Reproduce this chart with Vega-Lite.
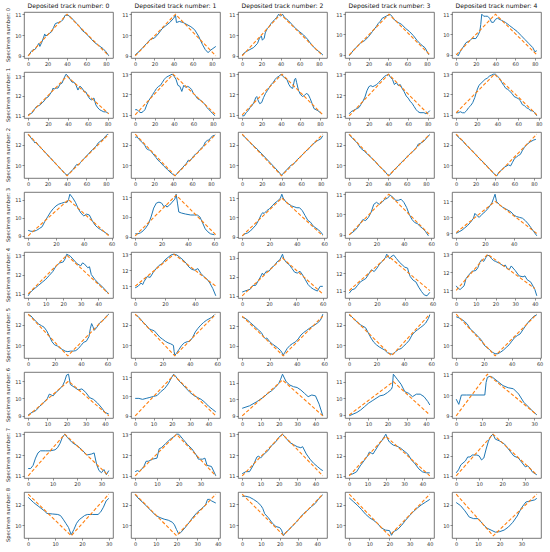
{
"$schema":"https://vega.github.io/schema/vega-lite/v6.json",
"padding":{"left":5,"top":2,"right":0,"bottom":0},
"datasets":{"d":[
{"r":0,"c":0,"k":"m","x":0,"y":9.0},{"r":0,"c":0,"k":"m","x":3,"y":9.2},{"r":0,"c":0,"k":"m","x":5,"y":9.3},{"r":0,"c":0,"k":"m","x":7,"y":9.3},{"r":0,"c":0,"k":"m","x":9,"y":9.45},{"r":0,"c":0,"k":"m","x":11,"y":9.6},{"r":0,"c":0,"k":"m","x":12,"y":9.45},{"r":0,"c":0,"k":"m","x":14,"y":9.65},{"r":0,"c":0,"k":"m","x":16,"y":9.9},{"r":0,"c":0,"k":"m","x":17,"y":10.05},{"r":0,"c":0,"k":"m","x":18,"y":9.95},{"r":0,"c":0,"k":"m","x":21,"y":10.05},{"r":0,"c":0,"k":"m","x":24,"y":10.15},{"r":0,"c":0,"k":"m","x":26,"y":10.35},{"r":0,"c":0,"k":"m","x":28,"y":10.55},{"r":0,"c":0,"k":"m","x":31,"y":10.6},{"r":0,"c":0,"k":"m","x":34,"y":10.65},{"r":0,"c":0,"k":"m","x":36,"y":10.75},{"r":0,"c":0,"k":"m","x":38,"y":10.95},{"r":0,"c":0,"k":"m","x":41,"y":10.95},{"r":0,"c":0,"k":"m","x":44,"y":10.85},{"r":0,"c":0,"k":"m","x":47,"y":10.7},{"r":0,"c":0,"k":"m","x":50,"y":10.55},{"r":0,"c":0,"k":"m","x":53,"y":10.4},{"r":0,"c":0,"k":"m","x":56,"y":10.2},{"r":0,"c":0,"k":"m","x":59,"y":10.1},{"r":0,"c":0,"k":"m","x":62,"y":9.95},{"r":0,"c":0,"k":"m","x":65,"y":9.8},{"r":0,"c":0,"k":"m","x":68,"y":9.65},{"r":0,"c":0,"k":"m","x":71,"y":9.55},{"r":0,"c":0,"k":"m","x":74,"y":9.45},{"r":0,"c":0,"k":"m","x":77,"y":9.35},{"r":0,"c":0,"k":"m","x":80,"y":9.2},{"r":0,"c":0,"k":"m","x":83,"y":9.0},
{"r":0,"c":0,"k":"f","x":0,"y":9},{"r":0,"c":0,"k":"f","x":40,"y":11},{"r":0,"c":0,"k":"f","x":83,"y":9},
{"r":0,"c":1,"k":"m","x":0,"y":9.05},{"r":0,"c":1,"k":"m","x":4,"y":9.2},{"r":0,"c":1,"k":"m","x":8,"y":9.4},{"r":0,"c":1,"k":"m","x":12,"y":9.6},{"r":0,"c":1,"k":"m","x":16,"y":9.8},{"r":0,"c":1,"k":"m","x":20,"y":9.85},{"r":0,"c":1,"k":"m","x":24,"y":10.05},{"r":0,"c":1,"k":"m","x":28,"y":10.3},{"r":0,"c":1,"k":"m","x":32,"y":10.45},{"r":0,"c":1,"k":"m","x":36,"y":10.6},{"r":0,"c":1,"k":"m","x":40,"y":10.8},{"r":0,"c":1,"k":"m","x":42,"y":10.95},{"r":0,"c":1,"k":"m","x":43,"y":10.6},{"r":0,"c":1,"k":"m","x":46,"y":10.65},{"r":0,"c":1,"k":"m","x":50,"y":10.6},{"r":0,"c":1,"k":"m","x":54,"y":10.5},{"r":0,"c":1,"k":"m","x":58,"y":10.4},{"r":0,"c":1,"k":"m","x":62,"y":10.25},{"r":0,"c":1,"k":"m","x":66,"y":9.95},{"r":0,"c":1,"k":"m","x":70,"y":9.55},{"r":0,"c":1,"k":"m","x":73,"y":9.3},{"r":0,"c":1,"k":"m","x":76,"y":9.15},{"r":0,"c":1,"k":"m","x":78,"y":9.25},{"r":0,"c":1,"k":"m","x":81,"y":9.35},{"r":0,"c":1,"k":"m","x":84,"y":9.45},
{"r":0,"c":1,"k":"f","x":0,"y":9},{"r":0,"c":1,"k":"f","x":42,"y":11},{"r":0,"c":1,"k":"f","x":84,"y":9},
{"r":0,"c":2,"k":"m","x":0,"y":9.05},{"r":0,"c":2,"k":"m","x":4,"y":9.2},{"r":0,"c":2,"k":"m","x":8,"y":9.3},{"r":0,"c":2,"k":"m","x":12,"y":9.4},{"r":0,"c":2,"k":"m","x":16,"y":9.6},{"r":0,"c":2,"k":"m","x":18,"y":9.85},{"r":0,"c":2,"k":"m","x":20,"y":9.95},{"r":0,"c":2,"k":"m","x":21,"y":9.75},{"r":0,"c":2,"k":"m","x":23,"y":9.85},{"r":0,"c":2,"k":"m","x":24,"y":10.1},{"r":0,"c":2,"k":"m","x":26,"y":10.3},{"r":0,"c":2,"k":"m","x":28,"y":10.4},{"r":0,"c":2,"k":"m","x":30,"y":10.55},{"r":0,"c":2,"k":"m","x":32,"y":10.65},{"r":0,"c":2,"k":"m","x":34,"y":10.75},{"r":0,"c":2,"k":"m","x":36,"y":10.85},{"r":0,"c":2,"k":"m","x":38,"y":11.0},{"r":0,"c":2,"k":"m","x":40,"y":10.9},{"r":0,"c":2,"k":"m","x":42,"y":11.0},{"r":0,"c":2,"k":"m","x":44,"y":10.85},{"r":0,"c":2,"k":"m","x":48,"y":10.7},{"r":0,"c":2,"k":"m","x":52,"y":10.5},{"r":0,"c":2,"k":"m","x":56,"y":10.3},{"r":0,"c":2,"k":"m","x":60,"y":10.15},{"r":0,"c":2,"k":"m","x":64,"y":10.0},{"r":0,"c":2,"k":"m","x":68,"y":9.8},{"r":0,"c":2,"k":"m","x":72,"y":9.55},{"r":0,"c":2,"k":"m","x":76,"y":9.35},{"r":0,"c":2,"k":"m","x":80,"y":9.2},{"r":0,"c":2,"k":"m","x":84,"y":9.05},
{"r":0,"c":2,"k":"f","x":0,"y":9},{"r":0,"c":2,"k":"f","x":40,"y":11},{"r":0,"c":2,"k":"f","x":84,"y":9},
{"r":0,"c":3,"k":"m","x":0,"y":8.95},{"r":0,"c":3,"k":"m","x":4,"y":9.2},{"r":0,"c":3,"k":"m","x":8,"y":9.4},{"r":0,"c":3,"k":"m","x":12,"y":9.6},{"r":0,"c":3,"k":"m","x":16,"y":9.7},{"r":0,"c":3,"k":"m","x":20,"y":9.9},{"r":0,"c":3,"k":"m","x":24,"y":10.15},{"r":0,"c":3,"k":"m","x":28,"y":10.4},{"r":0,"c":3,"k":"m","x":30,"y":10.55},{"r":0,"c":3,"k":"m","x":32,"y":10.65},{"r":0,"c":3,"k":"m","x":34,"y":10.8},{"r":0,"c":3,"k":"m","x":36,"y":10.85},{"r":0,"c":3,"k":"m","x":38,"y":10.9},{"r":0,"c":3,"k":"m","x":40,"y":10.95},{"r":0,"c":3,"k":"m","x":42,"y":11.0},{"r":0,"c":3,"k":"m","x":44,"y":10.9},{"r":0,"c":3,"k":"m","x":46,"y":10.75},{"r":0,"c":3,"k":"m","x":50,"y":10.6},{"r":0,"c":3,"k":"m","x":54,"y":10.5},{"r":0,"c":3,"k":"m","x":58,"y":10.3},{"r":0,"c":3,"k":"m","x":62,"y":10.15},{"r":0,"c":3,"k":"m","x":66,"y":9.95},{"r":0,"c":3,"k":"m","x":70,"y":9.7},{"r":0,"c":3,"k":"m","x":74,"y":9.5},{"r":0,"c":3,"k":"m","x":78,"y":9.35},{"r":0,"c":3,"k":"m","x":82,"y":9.0},
{"r":0,"c":3,"k":"f","x":0,"y":9},{"r":0,"c":3,"k":"f","x":41,"y":11},{"r":0,"c":3,"k":"f","x":83,"y":9},
{"r":0,"c":4,"k":"m","x":0,"y":9.05},{"r":0,"c":4,"k":"m","x":2,"y":8.95},{"r":0,"c":4,"k":"m","x":4,"y":9.15},{"r":0,"c":4,"k":"m","x":6,"y":9.3},{"r":0,"c":4,"k":"m","x":8,"y":9.45},{"r":0,"c":4,"k":"m","x":10,"y":9.6},{"r":0,"c":4,"k":"m","x":12,"y":9.65},{"r":0,"c":4,"k":"m","x":14,"y":9.7},{"r":0,"c":4,"k":"m","x":16,"y":9.8},{"r":0,"c":4,"k":"m","x":20,"y":9.8},{"r":0,"c":4,"k":"m","x":22,"y":9.95},{"r":0,"c":4,"k":"m","x":24,"y":10.15},{"r":0,"c":4,"k":"m","x":25,"y":10.5},{"r":0,"c":4,"k":"m","x":26,"y":11.0},{"r":0,"c":4,"k":"m","x":28,"y":10.9},{"r":0,"c":4,"k":"m","x":30,"y":10.9},{"r":0,"c":4,"k":"m","x":32,"y":10.9},{"r":0,"c":4,"k":"m","x":34,"y":10.8},{"r":0,"c":4,"k":"m","x":36,"y":10.6},{"r":0,"c":4,"k":"m","x":38,"y":10.6},{"r":0,"c":4,"k":"m","x":40,"y":10.75},{"r":0,"c":4,"k":"m","x":42,"y":10.8},{"r":0,"c":4,"k":"m","x":46,"y":10.7},{"r":0,"c":4,"k":"m","x":50,"y":10.6},{"r":0,"c":4,"k":"m","x":54,"y":10.45},{"r":0,"c":4,"k":"m","x":58,"y":10.3},{"r":0,"c":4,"k":"m","x":62,"y":10.15},{"r":0,"c":4,"k":"m","x":66,"y":9.95},{"r":0,"c":4,"k":"m","x":70,"y":9.75},{"r":0,"c":4,"k":"m","x":74,"y":9.55},{"r":0,"c":4,"k":"m","x":78,"y":9.35},{"r":0,"c":4,"k":"m","x":80,"y":9.15},{"r":0,"c":4,"k":"m","x":82,"y":9.2},
{"r":0,"c":4,"k":"f","x":0,"y":9},{"r":0,"c":4,"k":"f","x":40,"y":11},{"r":0,"c":4,"k":"f","x":82,"y":9},
{"r":1,"c":0,"k":"m","x":0,"y":11.05},{"r":1,"c":0,"k":"m","x":2,"y":11.1},{"r":1,"c":0,"k":"m","x":4,"y":11.15},{"r":1,"c":0,"k":"m","x":6,"y":11.3},{"r":1,"c":0,"k":"m","x":8,"y":11.45},{"r":1,"c":0,"k":"m","x":10,"y":11.5},{"r":1,"c":0,"k":"m","x":12,"y":11.55},{"r":1,"c":0,"k":"m","x":14,"y":11.65},{"r":1,"c":0,"k":"m","x":16,"y":11.75},{"r":1,"c":0,"k":"m","x":18,"y":11.9},{"r":1,"c":0,"k":"m","x":20,"y":11.95},{"r":1,"c":0,"k":"m","x":22,"y":12.1},{"r":1,"c":0,"k":"m","x":24,"y":12.25},{"r":1,"c":0,"k":"m","x":25,"y":12.4},{"r":1,"c":0,"k":"m","x":26,"y":12.35},{"r":1,"c":0,"k":"m","x":28,"y":12.4},{"r":1,"c":0,"k":"m","x":30,"y":12.4},{"r":1,"c":0,"k":"m","x":32,"y":12.6},{"r":1,"c":0,"k":"m","x":34,"y":12.65},{"r":1,"c":0,"k":"m","x":36,"y":12.9},{"r":1,"c":0,"k":"m","x":38,"y":13.1},{"r":1,"c":0,"k":"m","x":40,"y":13.0},{"r":1,"c":0,"k":"m","x":42,"y":12.85},{"r":1,"c":0,"k":"m","x":44,"y":12.7},{"r":1,"c":0,"k":"m","x":46,"y":12.7},{"r":1,"c":0,"k":"m","x":48,"y":12.55},{"r":1,"c":0,"k":"m","x":50,"y":12.3},{"r":1,"c":0,"k":"m","x":52,"y":12.5},{"r":1,"c":0,"k":"m","x":54,"y":12.4},{"r":1,"c":0,"k":"m","x":56,"y":12.25},{"r":1,"c":0,"k":"m","x":58,"y":12.2},{"r":1,"c":0,"k":"m","x":60,"y":12.0},{"r":1,"c":0,"k":"m","x":62,"y":11.85},{"r":1,"c":0,"k":"m","x":64,"y":11.8},{"r":1,"c":0,"k":"m","x":66,"y":11.9},{"r":1,"c":0,"k":"m","x":68,"y":11.55},{"r":1,"c":0,"k":"m","x":70,"y":11.4},{"r":1,"c":0,"k":"m","x":72,"y":11.3},{"r":1,"c":0,"k":"m","x":74,"y":11.25},{"r":1,"c":0,"k":"m","x":76,"y":11.2},{"r":1,"c":0,"k":"m","x":78,"y":11.2},{"r":1,"c":0,"k":"m","x":80,"y":11.15},
{"r":1,"c":0,"k":"f","x":0,"y":11},{"r":1,"c":0,"k":"f","x":39,"y":13},{"r":1,"c":0,"k":"f","x":81,"y":11.1},
{"r":1,"c":1,"k":"m","x":0,"y":11.25},{"r":1,"c":1,"k":"m","x":2,"y":11.25},{"r":1,"c":1,"k":"m","x":4,"y":11.15},{"r":1,"c":1,"k":"m","x":6,"y":11.1},{"r":1,"c":1,"k":"m","x":8,"y":11.15},{"r":1,"c":1,"k":"m","x":10,"y":11.25},{"r":1,"c":1,"k":"m","x":12,"y":11.5},{"r":1,"c":1,"k":"m","x":14,"y":11.7},{"r":1,"c":1,"k":"m","x":16,"y":11.85},{"r":1,"c":1,"k":"m","x":18,"y":12.0},{"r":1,"c":1,"k":"m","x":20,"y":12.15},{"r":1,"c":1,"k":"m","x":22,"y":12.3},{"r":1,"c":1,"k":"m","x":24,"y":12.4},{"r":1,"c":1,"k":"m","x":26,"y":12.45},{"r":1,"c":1,"k":"m","x":28,"y":12.6},{"r":1,"c":1,"k":"m","x":30,"y":12.75},{"r":1,"c":1,"k":"m","x":32,"y":12.85},{"r":1,"c":1,"k":"m","x":34,"y":12.9},{"r":1,"c":1,"k":"m","x":36,"y":12.95},{"r":1,"c":1,"k":"m","x":38,"y":13.0},{"r":1,"c":1,"k":"m","x":40,"y":12.9},{"r":1,"c":1,"k":"m","x":42,"y":12.75},{"r":1,"c":1,"k":"m","x":44,"y":12.45},{"r":1,"c":1,"k":"m","x":46,"y":12.4},{"r":1,"c":1,"k":"m","x":48,"y":12.15},{"r":1,"c":1,"k":"m","x":50,"y":12.45},{"r":1,"c":1,"k":"m","x":52,"y":12.35},{"r":1,"c":1,"k":"m","x":54,"y":12.4},{"r":1,"c":1,"k":"m","x":56,"y":12.35},{"r":1,"c":1,"k":"m","x":58,"y":12.25},{"r":1,"c":1,"k":"m","x":60,"y":12.05},{"r":1,"c":1,"k":"m","x":62,"y":11.95},{"r":1,"c":1,"k":"m","x":64,"y":11.8},{"r":1,"c":1,"k":"m","x":66,"y":11.75},{"r":1,"c":1,"k":"m","x":68,"y":11.7},{"r":1,"c":1,"k":"m","x":70,"y":11.6},{"r":1,"c":1,"k":"m","x":72,"y":11.5},{"r":1,"c":1,"k":"m","x":74,"y":11.35},{"r":1,"c":1,"k":"m","x":76,"y":11.25},{"r":1,"c":1,"k":"m","x":78,"y":11.15},{"r":1,"c":1,"k":"m","x":80,"y":11.05},{"r":1,"c":1,"k":"m","x":82,"y":10.95},
{"r":1,"c":1,"k":"f","x":0,"y":11},{"r":1,"c":1,"k":"f","x":39,"y":13},{"r":1,"c":1,"k":"f","x":83,"y":11},
{"r":1,"c":2,"k":"m","x":0,"y":10.95},{"r":1,"c":2,"k":"m","x":2,"y":10.95},{"r":1,"c":2,"k":"m","x":4,"y":11.1},{"r":1,"c":2,"k":"m","x":6,"y":11.2},{"r":1,"c":2,"k":"m","x":8,"y":11.35},{"r":1,"c":2,"k":"m","x":10,"y":11.45},{"r":1,"c":2,"k":"m","x":12,"y":11.6},{"r":1,"c":2,"k":"m","x":14,"y":11.85},{"r":1,"c":2,"k":"m","x":15,"y":11.9},{"r":1,"c":2,"k":"m","x":16,"y":11.75},{"r":1,"c":2,"k":"m","x":18,"y":11.55},{"r":1,"c":2,"k":"m","x":20,"y":11.6},{"r":1,"c":2,"k":"m","x":22,"y":11.85},{"r":1,"c":2,"k":"m","x":24,"y":12.05},{"r":1,"c":2,"k":"m","x":26,"y":12.2},{"r":1,"c":2,"k":"m","x":28,"y":12.35},{"r":1,"c":2,"k":"m","x":30,"y":12.5},{"r":1,"c":2,"k":"m","x":32,"y":12.6},{"r":1,"c":2,"k":"m","x":34,"y":12.75},{"r":1,"c":2,"k":"m","x":36,"y":12.85},{"r":1,"c":2,"k":"m","x":38,"y":12.9},{"r":1,"c":2,"k":"m","x":40,"y":13.0},{"r":1,"c":2,"k":"m","x":42,"y":12.9},{"r":1,"c":2,"k":"m","x":44,"y":12.8},{"r":1,"c":2,"k":"m","x":46,"y":12.75},{"r":1,"c":2,"k":"m","x":48,"y":12.5},{"r":1,"c":2,"k":"m","x":50,"y":12.35},{"r":1,"c":2,"k":"m","x":52,"y":12.3},{"r":1,"c":2,"k":"m","x":54,"y":12.75},{"r":1,"c":2,"k":"m","x":55,"y":12.8},{"r":1,"c":2,"k":"m","x":56,"y":12.6},{"r":1,"c":2,"k":"m","x":58,"y":12.2},{"r":1,"c":2,"k":"m","x":60,"y":12.0},{"r":1,"c":2,"k":"m","x":62,"y":11.9},{"r":1,"c":2,"k":"m","x":64,"y":11.95},{"r":1,"c":2,"k":"m","x":66,"y":12.05},{"r":1,"c":2,"k":"m","x":68,"y":12.0},{"r":1,"c":2,"k":"m","x":70,"y":11.8},{"r":1,"c":2,"k":"m","x":72,"y":11.55},{"r":1,"c":2,"k":"m","x":74,"y":11.3},{"r":1,"c":2,"k":"m","x":76,"y":11.25},{"r":1,"c":2,"k":"m","x":78,"y":11.2},{"r":1,"c":2,"k":"m","x":82,"y":11.05},
{"r":1,"c":2,"k":"f","x":0,"y":11},{"r":1,"c":2,"k":"f","x":41,"y":13},{"r":1,"c":2,"k":"f","x":83,"y":11},
{"r":1,"c":3,"k":"m","x":0,"y":11.1},{"r":1,"c":3,"k":"m","x":2,"y":11.2},{"r":1,"c":3,"k":"m","x":4,"y":11.25},{"r":1,"c":3,"k":"m","x":6,"y":11.3},{"r":1,"c":3,"k":"m","x":8,"y":11.35},{"r":1,"c":3,"k":"m","x":10,"y":11.4},{"r":1,"c":3,"k":"m","x":12,"y":11.55},{"r":1,"c":3,"k":"m","x":14,"y":11.7},{"r":1,"c":3,"k":"m","x":16,"y":11.9},{"r":1,"c":3,"k":"m","x":18,"y":12.2},{"r":1,"c":3,"k":"m","x":20,"y":12.4},{"r":1,"c":3,"k":"m","x":22,"y":12.45},{"r":1,"c":3,"k":"m","x":24,"y":12.4},{"r":1,"c":3,"k":"m","x":26,"y":12.45},{"r":1,"c":3,"k":"m","x":28,"y":12.5},{"r":1,"c":3,"k":"m","x":30,"y":12.6},{"r":1,"c":3,"k":"m","x":32,"y":12.7},{"r":1,"c":3,"k":"m","x":34,"y":12.8},{"r":1,"c":3,"k":"m","x":36,"y":12.9},{"r":1,"c":3,"k":"m","x":38,"y":12.95},{"r":1,"c":3,"k":"m","x":40,"y":13.0},{"r":1,"c":3,"k":"m","x":42,"y":12.85},{"r":1,"c":3,"k":"m","x":44,"y":12.75},{"r":1,"c":3,"k":"m","x":46,"y":12.5},{"r":1,"c":3,"k":"m","x":48,"y":12.6},{"r":1,"c":3,"k":"m","x":50,"y":12.45},{"r":1,"c":3,"k":"m","x":52,"y":12.5},{"r":1,"c":3,"k":"m","x":54,"y":12.3},{"r":1,"c":3,"k":"m","x":56,"y":12.15},{"r":1,"c":3,"k":"m","x":58,"y":11.95},{"r":1,"c":3,"k":"m","x":60,"y":11.85},{"r":1,"c":3,"k":"m","x":62,"y":11.7},{"r":1,"c":3,"k":"m","x":64,"y":11.6},{"r":1,"c":3,"k":"m","x":66,"y":11.45},{"r":1,"c":3,"k":"m","x":68,"y":11.3},{"r":1,"c":3,"k":"m","x":70,"y":11.2},{"r":1,"c":3,"k":"m","x":72,"y":11.15},{"r":1,"c":3,"k":"m","x":76,"y":11.15},{"r":1,"c":3,"k":"m","x":78,"y":11.1},{"r":1,"c":3,"k":"m","x":80,"y":11.15},{"r":1,"c":3,"k":"m","x":82,"y":11.25},
{"r":1,"c":3,"k":"f","x":0,"y":11},{"r":1,"c":3,"k":"f","x":40,"y":13},{"r":1,"c":3,"k":"f","x":82,"y":11},
{"r":1,"c":4,"k":"m","x":0,"y":11.1},{"r":1,"c":4,"k":"m","x":2,"y":11.1},{"r":1,"c":4,"k":"m","x":4,"y":11.15},{"r":1,"c":4,"k":"m","x":6,"y":11.1},{"r":1,"c":4,"k":"m","x":8,"y":11.1},{"r":1,"c":4,"k":"m","x":10,"y":11.2},{"r":1,"c":4,"k":"m","x":12,"y":11.35},{"r":1,"c":4,"k":"m","x":14,"y":11.45},{"r":1,"c":4,"k":"m","x":16,"y":11.6},{"r":1,"c":4,"k":"m","x":18,"y":11.85},{"r":1,"c":4,"k":"m","x":20,"y":12.2},{"r":1,"c":4,"k":"m","x":22,"y":12.45},{"r":1,"c":4,"k":"m","x":24,"y":12.55},{"r":1,"c":4,"k":"m","x":26,"y":12.65},{"r":1,"c":4,"k":"m","x":28,"y":12.75},{"r":1,"c":4,"k":"m","x":30,"y":12.8},{"r":1,"c":4,"k":"m","x":32,"y":12.9},{"r":1,"c":4,"k":"m","x":34,"y":12.95},{"r":1,"c":4,"k":"m","x":36,"y":13.0},{"r":1,"c":4,"k":"m","x":38,"y":13.0},{"r":1,"c":4,"k":"m","x":40,"y":12.9},{"r":1,"c":4,"k":"m","x":42,"y":12.8},{"r":1,"c":4,"k":"m","x":44,"y":12.6},{"r":1,"c":4,"k":"m","x":46,"y":12.45},{"r":1,"c":4,"k":"m","x":48,"y":12.3},{"r":1,"c":4,"k":"m","x":50,"y":12.25},{"r":1,"c":4,"k":"m","x":52,"y":12.15},{"r":1,"c":4,"k":"m","x":54,"y":12.05},{"r":1,"c":4,"k":"m","x":56,"y":11.9},{"r":1,"c":4,"k":"m","x":58,"y":11.85},{"r":1,"c":4,"k":"m","x":60,"y":11.8},{"r":1,"c":4,"k":"m","x":62,"y":11.7},{"r":1,"c":4,"k":"m","x":64,"y":11.5},{"r":1,"c":4,"k":"m","x":66,"y":11.45},{"r":1,"c":4,"k":"m","x":68,"y":11.35},{"r":1,"c":4,"k":"m","x":70,"y":11.3},{"r":1,"c":4,"k":"m","x":72,"y":11.2},{"r":1,"c":4,"k":"m","x":74,"y":11.2},{"r":1,"c":4,"k":"m","x":76,"y":11.1},{"r":1,"c":4,"k":"m","x":78,"y":10.95},
{"r":1,"c":4,"k":"f","x":0,"y":11.1},{"r":1,"c":4,"k":"f","x":37,"y":13},{"r":1,"c":4,"k":"f","x":78,"y":11},
{"r":2,"c":0,"k":"m","x":0,"y":12.95},{"r":2,"c":0,"k":"m","x":2,"y":12.75},{"r":2,"c":0,"k":"m","x":4,"y":12.5},{"r":2,"c":0,"k":"m","x":6,"y":12.3},{"r":2,"c":0,"k":"m","x":7,"y":12.15},{"r":2,"c":0,"k":"m","x":8,"y":12.25},{"r":2,"c":0,"k":"m","x":10,"y":12.0},{"r":2,"c":0,"k":"m","x":14,"y":11.6},{"r":2,"c":0,"k":"m","x":18,"y":11.2},{"r":2,"c":0,"k":"m","x":22,"y":10.8},{"r":2,"c":0,"k":"m","x":26,"y":10.4},{"r":2,"c":0,"k":"m","x":30,"y":10.0},{"r":2,"c":0,"k":"m","x":34,"y":9.6},{"r":2,"c":0,"k":"m","x":38,"y":9.2},{"r":2,"c":0,"k":"m","x":40,"y":9.05},{"r":2,"c":0,"k":"m","x":42,"y":9.2},{"r":2,"c":0,"k":"m","x":46,"y":9.6},{"r":2,"c":0,"k":"m","x":48,"y":9.85},{"r":2,"c":0,"k":"m","x":50,"y":10.1},{"r":2,"c":0,"k":"m","x":52,"y":10.05},{"r":2,"c":0,"k":"m","x":54,"y":10.3},{"r":2,"c":0,"k":"m","x":58,"y":10.7},{"r":2,"c":0,"k":"m","x":62,"y":11.1},{"r":2,"c":0,"k":"m","x":66,"y":11.5},{"r":2,"c":0,"k":"m","x":70,"y":11.85},{"r":2,"c":0,"k":"m","x":72,"y":12.15},{"r":2,"c":0,"k":"m","x":74,"y":12.3},{"r":2,"c":0,"k":"m","x":78,"y":12.6},{"r":2,"c":0,"k":"m","x":80,"y":12.85},{"r":2,"c":0,"k":"m","x":82,"y":13.0},
{"r":2,"c":0,"k":"f","x":0,"y":13},{"r":2,"c":0,"k":"f","x":40,"y":9},{"r":2,"c":0,"k":"f","x":83,"y":13},
{"r":2,"c":1,"k":"m","x":0,"y":12.7},{"r":2,"c":1,"k":"m","x":2,"y":12.75},{"r":2,"c":1,"k":"m","x":4,"y":12.5},{"r":2,"c":1,"k":"m","x":8,"y":12.15},{"r":2,"c":1,"k":"m","x":10,"y":11.95},{"r":2,"c":1,"k":"m","x":12,"y":11.6},{"r":2,"c":1,"k":"m","x":14,"y":11.5},{"r":2,"c":1,"k":"m","x":16,"y":11.45},{"r":2,"c":1,"k":"m","x":18,"y":11.2},{"r":2,"c":1,"k":"m","x":22,"y":10.75},{"r":2,"c":1,"k":"m","x":24,"y":10.5},{"r":2,"c":1,"k":"m","x":26,"y":10.35},{"r":2,"c":1,"k":"m","x":30,"y":9.95},{"r":2,"c":1,"k":"m","x":34,"y":9.6},{"r":2,"c":1,"k":"m","x":38,"y":9.25},{"r":2,"c":1,"k":"m","x":42,"y":9.0},{"r":2,"c":1,"k":"m","x":46,"y":9.4},{"r":2,"c":1,"k":"m","x":50,"y":9.8},{"r":2,"c":1,"k":"m","x":54,"y":10.2},{"r":2,"c":1,"k":"m","x":56,"y":10.5},{"r":2,"c":1,"k":"m","x":58,"y":10.45},{"r":2,"c":1,"k":"m","x":60,"y":10.7},{"r":2,"c":1,"k":"m","x":62,"y":10.95},{"r":2,"c":1,"k":"m","x":64,"y":11.1},{"r":2,"c":1,"k":"m","x":66,"y":11.25},{"r":2,"c":1,"k":"m","x":68,"y":11.5},{"r":2,"c":1,"k":"m","x":72,"y":11.85},{"r":2,"c":1,"k":"m","x":74,"y":12.25},{"r":2,"c":1,"k":"m","x":76,"y":12.4},{"r":2,"c":1,"k":"m","x":78,"y":12.45},{"r":2,"c":1,"k":"m","x":80,"y":12.7},{"r":2,"c":1,"k":"m","x":82,"y":12.85},{"r":2,"c":1,"k":"m","x":84,"y":12.9},
{"r":2,"c":1,"k":"f","x":0,"y":13},{"r":2,"c":1,"k":"f","x":42,"y":9},{"r":2,"c":1,"k":"f","x":85,"y":13},
{"r":2,"c":2,"k":"m","x":0,"y":12.95},{"r":2,"c":2,"k":"m","x":4,"y":12.6},{"r":2,"c":2,"k":"m","x":8,"y":12.2},{"r":2,"c":2,"k":"m","x":12,"y":11.85},{"r":2,"c":2,"k":"m","x":16,"y":11.5},{"r":2,"c":2,"k":"m","x":20,"y":11.1},{"r":2,"c":2,"k":"m","x":24,"y":10.7},{"r":2,"c":2,"k":"m","x":28,"y":10.3},{"r":2,"c":2,"k":"m","x":32,"y":9.9},{"r":2,"c":2,"k":"m","x":36,"y":9.5},{"r":2,"c":2,"k":"m","x":40,"y":9.05},{"r":2,"c":2,"k":"m","x":44,"y":9.45},{"r":2,"c":2,"k":"m","x":48,"y":9.85},{"r":2,"c":2,"k":"m","x":50,"y":10.05},{"r":2,"c":2,"k":"m","x":52,"y":10.1},{"r":2,"c":2,"k":"m","x":56,"y":10.55},{"r":2,"c":2,"k":"m","x":60,"y":10.9},{"r":2,"c":2,"k":"m","x":64,"y":11.3},{"r":2,"c":2,"k":"m","x":68,"y":11.65},{"r":2,"c":2,"k":"m","x":72,"y":12.05},{"r":2,"c":2,"k":"m","x":76,"y":12.35},{"r":2,"c":2,"k":"m","x":78,"y":12.45},{"r":2,"c":2,"k":"m","x":80,"y":12.55},{"r":2,"c":2,"k":"m","x":82,"y":12.85},
{"r":2,"c":2,"k":"f","x":0,"y":13},{"r":2,"c":2,"k":"f","x":40,"y":9},{"r":2,"c":2,"k":"f","x":82,"y":13},
{"r":2,"c":3,"k":"m","x":0,"y":12.95},{"r":2,"c":3,"k":"m","x":4,"y":12.55},{"r":2,"c":3,"k":"m","x":8,"y":12.2},{"r":2,"c":3,"k":"m","x":12,"y":11.65},{"r":2,"c":3,"k":"m","x":16,"y":11.35},{"r":2,"c":3,"k":"m","x":20,"y":11.0},{"r":2,"c":3,"k":"m","x":24,"y":10.65},{"r":2,"c":3,"k":"m","x":28,"y":10.3},{"r":2,"c":3,"k":"m","x":32,"y":9.85},{"r":2,"c":3,"k":"m","x":36,"y":9.55},{"r":2,"c":3,"k":"m","x":40,"y":9.1},{"r":2,"c":3,"k":"m","x":42,"y":9.05},{"r":2,"c":3,"k":"m","x":46,"y":9.5},{"r":2,"c":3,"k":"m","x":50,"y":9.85},{"r":2,"c":3,"k":"m","x":54,"y":10.25},{"r":2,"c":3,"k":"m","x":58,"y":10.6},{"r":2,"c":3,"k":"m","x":62,"y":11.0},{"r":2,"c":3,"k":"m","x":66,"y":11.3},{"r":2,"c":3,"k":"m","x":70,"y":11.7},{"r":2,"c":3,"k":"m","x":72,"y":12.05},{"r":2,"c":3,"k":"m","x":74,"y":12.1},{"r":2,"c":3,"k":"m","x":78,"y":12.35},{"r":2,"c":3,"k":"m","x":82,"y":12.8},{"r":2,"c":3,"k":"m","x":84,"y":12.95},
{"r":2,"c":3,"k":"f","x":0,"y":13},{"r":2,"c":3,"k":"f","x":41,"y":9},{"r":2,"c":3,"k":"f","x":84,"y":13},
{"r":2,"c":4,"k":"m","x":0,"y":12.95},{"r":2,"c":4,"k":"m","x":4,"y":12.55},{"r":2,"c":4,"k":"m","x":6,"y":12.45},{"r":2,"c":4,"k":"m","x":8,"y":12.2},{"r":2,"c":4,"k":"m","x":12,"y":11.8},{"r":2,"c":4,"k":"m","x":16,"y":11.45},{"r":2,"c":4,"k":"m","x":20,"y":11.05},{"r":2,"c":4,"k":"m","x":24,"y":10.65},{"r":2,"c":4,"k":"m","x":28,"y":10.3},{"r":2,"c":4,"k":"m","x":32,"y":9.9},{"r":2,"c":4,"k":"m","x":36,"y":9.5},{"r":2,"c":4,"k":"m","x":40,"y":9.1},{"r":2,"c":4,"k":"m","x":42,"y":9.0},{"r":2,"c":4,"k":"m","x":44,"y":9.35},{"r":2,"c":4,"k":"m","x":46,"y":9.5},{"r":2,"c":4,"k":"m","x":50,"y":9.85},{"r":2,"c":4,"k":"m","x":54,"y":10.05},{"r":2,"c":4,"k":"m","x":56,"y":9.95},{"r":2,"c":4,"k":"m","x":58,"y":10.3},{"r":2,"c":4,"k":"m","x":60,"y":10.65},{"r":2,"c":4,"k":"m","x":62,"y":10.8},{"r":2,"c":4,"k":"m","x":64,"y":10.95},{"r":2,"c":4,"k":"m","x":66,"y":11.05},{"r":2,"c":4,"k":"m","x":68,"y":11.4},{"r":2,"c":4,"k":"m","x":70,"y":11.7},{"r":2,"c":4,"k":"m","x":72,"y":11.95},{"r":2,"c":4,"k":"m","x":76,"y":12.25},{"r":2,"c":4,"k":"m","x":80,"y":12.45},{"r":2,"c":4,"k":"m","x":82,"y":12.5},
{"r":2,"c":4,"k":"f","x":0,"y":13},{"r":2,"c":4,"k":"f","x":41,"y":9},{"r":2,"c":4,"k":"f","x":83,"y":13},
{"r":3,"c":0,"k":"m","x":0,"y":9.3},{"r":3,"c":0,"k":"m","x":2,"y":9.25},{"r":3,"c":0,"k":"m","x":4,"y":9.25},{"r":3,"c":0,"k":"m","x":6,"y":9.3},{"r":3,"c":0,"k":"m","x":8,"y":9.4},{"r":3,"c":0,"k":"m","x":10,"y":9.5},{"r":3,"c":0,"k":"m","x":12,"y":9.8},{"r":3,"c":0,"k":"m","x":14,"y":10.05},{"r":3,"c":0,"k":"m","x":16,"y":10.3},{"r":3,"c":0,"k":"m","x":18,"y":10.5},{"r":3,"c":0,"k":"m","x":20,"y":10.65},{"r":3,"c":0,"k":"m","x":22,"y":10.75},{"r":3,"c":0,"k":"m","x":24,"y":10.8},{"r":3,"c":0,"k":"m","x":26,"y":10.85},{"r":3,"c":0,"k":"m","x":28,"y":10.85},{"r":3,"c":0,"k":"m","x":29,"y":11.0},{"r":3,"c":0,"k":"m","x":30,"y":11.3},{"r":3,"c":0,"k":"m","x":32,"y":11.1},{"r":3,"c":0,"k":"m","x":34,"y":10.85},{"r":3,"c":0,"k":"m","x":36,"y":10.5},{"r":3,"c":0,"k":"m","x":38,"y":10.25},{"r":3,"c":0,"k":"m","x":40,"y":10.1},{"r":3,"c":0,"k":"m","x":42,"y":10.2},{"r":3,"c":0,"k":"m","x":44,"y":10.15},{"r":3,"c":0,"k":"m","x":46,"y":9.85},{"r":3,"c":0,"k":"m","x":48,"y":9.6},{"r":3,"c":0,"k":"m","x":50,"y":9.45},{"r":3,"c":0,"k":"m","x":52,"y":9.35},{"r":3,"c":0,"k":"m","x":54,"y":9.25},{"r":3,"c":0,"k":"m","x":56,"y":9.15},{"r":3,"c":0,"k":"m","x":58,"y":9.05},
{"r":3,"c":0,"k":"f","x":0,"y":9},{"r":3,"c":0,"k":"f","x":29,"y":11},{"r":3,"c":0,"k":"f","x":58,"y":9},
{"r":3,"c":1,"k":"m","x":0,"y":9.15},{"r":3,"c":1,"k":"m","x":2,"y":9.15},{"r":3,"c":1,"k":"m","x":4,"y":9.2},{"r":3,"c":1,"k":"m","x":6,"y":9.3},{"r":3,"c":1,"k":"m","x":8,"y":9.45},{"r":3,"c":1,"k":"m","x":10,"y":9.65},{"r":3,"c":1,"k":"m","x":12,"y":10.0},{"r":3,"c":1,"k":"m","x":14,"y":10.45},{"r":3,"c":1,"k":"m","x":16,"y":10.7},{"r":3,"c":1,"k":"m","x":18,"y":10.75},{"r":3,"c":1,"k":"m","x":20,"y":10.7},{"r":3,"c":1,"k":"m","x":22,"y":10.5},{"r":3,"c":1,"k":"m","x":23,"y":10.6},{"r":3,"c":1,"k":"m","x":24,"y":10.5},{"r":3,"c":1,"k":"m","x":26,"y":10.6},{"r":3,"c":1,"k":"m","x":28,"y":10.75},{"r":3,"c":1,"k":"m","x":30,"y":10.9},{"r":3,"c":1,"k":"m","x":31,"y":11.15},{"r":3,"c":1,"k":"m","x":32,"y":10.7},{"r":3,"c":1,"k":"m","x":33,"y":10.25},{"r":3,"c":1,"k":"m","x":35,"y":10.2},{"r":3,"c":1,"k":"m","x":38,"y":10.15},{"r":3,"c":1,"k":"m","x":42,"y":10.1},{"r":3,"c":1,"k":"m","x":45,"y":10.1},{"r":3,"c":1,"k":"m","x":47,"y":10.1},{"r":3,"c":1,"k":"m","x":49,"y":10.0},{"r":3,"c":1,"k":"m","x":51,"y":9.7},{"r":3,"c":1,"k":"m","x":53,"y":9.4},{"r":3,"c":1,"k":"m","x":55,"y":9.25},{"r":3,"c":1,"k":"m","x":57,"y":9.15},{"r":3,"c":1,"k":"m","x":60,"y":9.1},
{"r":3,"c":1,"k":"f","x":0,"y":9.05},{"r":3,"c":1,"k":"f","x":31,"y":11.1},{"r":3,"c":1,"k":"f","x":61,"y":9.1},
{"r":3,"c":2,"k":"m","x":0,"y":9.05},{"r":3,"c":2,"k":"m","x":2,"y":9.15},{"r":3,"c":2,"k":"m","x":4,"y":9.2},{"r":3,"c":2,"k":"m","x":6,"y":9.3},{"r":3,"c":2,"k":"m","x":8,"y":9.45},{"r":3,"c":2,"k":"m","x":10,"y":9.6},{"r":3,"c":2,"k":"m","x":12,"y":9.85},{"r":3,"c":2,"k":"m","x":14,"y":10.15},{"r":3,"c":2,"k":"m","x":15,"y":10.25},{"r":3,"c":2,"k":"m","x":16,"y":10.2},{"r":3,"c":2,"k":"m","x":18,"y":10.35},{"r":3,"c":2,"k":"m","x":20,"y":10.45},{"r":3,"c":2,"k":"m","x":22,"y":10.6},{"r":3,"c":2,"k":"m","x":24,"y":10.75},{"r":3,"c":2,"k":"m","x":26,"y":10.85},{"r":3,"c":2,"k":"m","x":28,"y":11.0},{"r":3,"c":2,"k":"m","x":29,"y":11.2},{"r":3,"c":2,"k":"m","x":30,"y":11.0},{"r":3,"c":2,"k":"m","x":32,"y":10.8},{"r":3,"c":2,"k":"m","x":34,"y":10.7},{"r":3,"c":2,"k":"m","x":36,"y":10.6},{"r":3,"c":2,"k":"m","x":38,"y":10.55},{"r":3,"c":2,"k":"m","x":40,"y":10.5},{"r":3,"c":2,"k":"m","x":42,"y":10.5},{"r":3,"c":2,"k":"m","x":44,"y":10.35},{"r":3,"c":2,"k":"m","x":46,"y":10.1},{"r":3,"c":2,"k":"m","x":48,"y":9.85},{"r":3,"c":2,"k":"m","x":50,"y":9.75},{"r":3,"c":2,"k":"m","x":52,"y":9.55},{"r":3,"c":2,"k":"m","x":54,"y":9.45},{"r":3,"c":2,"k":"m","x":56,"y":9.35},{"r":3,"c":2,"k":"m","x":58,"y":9.2},{"r":3,"c":2,"k":"m","x":59,"y":9.1},
{"r":3,"c":2,"k":"f","x":0,"y":9.05},{"r":3,"c":2,"k":"f","x":29,"y":11},{"r":3,"c":2,"k":"f","x":59,"y":9.05},
{"r":3,"c":3,"k":"m","x":0,"y":9.0},{"r":3,"c":3,"k":"m","x":2,"y":9.1},{"r":3,"c":3,"k":"m","x":4,"y":9.2},{"r":3,"c":3,"k":"m","x":6,"y":9.35},{"r":3,"c":3,"k":"m","x":8,"y":9.55},{"r":3,"c":3,"k":"m","x":10,"y":9.75},{"r":3,"c":3,"k":"m","x":12,"y":9.7},{"r":3,"c":3,"k":"m","x":14,"y":9.85},{"r":3,"c":3,"k":"m","x":16,"y":10.1},{"r":3,"c":3,"k":"m","x":18,"y":10.5},{"r":3,"c":3,"k":"m","x":20,"y":10.6},{"r":3,"c":3,"k":"m","x":22,"y":10.5},{"r":3,"c":3,"k":"m","x":24,"y":10.6},{"r":3,"c":3,"k":"m","x":26,"y":10.75},{"r":3,"c":3,"k":"m","x":28,"y":10.8},{"r":3,"c":3,"k":"m","x":30,"y":10.95},{"r":3,"c":3,"k":"m","x":32,"y":10.85},{"r":3,"c":3,"k":"m","x":34,"y":10.7},{"r":3,"c":3,"k":"m","x":36,"y":10.7},{"r":3,"c":3,"k":"m","x":38,"y":10.75},{"r":3,"c":3,"k":"m","x":40,"y":10.6},{"r":3,"c":3,"k":"m","x":42,"y":10.35},{"r":3,"c":3,"k":"m","x":44,"y":10.0},{"r":3,"c":3,"k":"m","x":46,"y":9.75},{"r":3,"c":3,"k":"m","x":48,"y":9.6},{"r":3,"c":3,"k":"m","x":50,"y":9.55},{"r":3,"c":3,"k":"m","x":52,"y":9.4},{"r":3,"c":3,"k":"m","x":54,"y":9.3},{"r":3,"c":3,"k":"m","x":56,"y":9.15},{"r":3,"c":3,"k":"m","x":58,"y":8.95},
{"r":3,"c":3,"k":"f","x":0,"y":9},{"r":3,"c":3,"k":"f","x":29,"y":11},{"r":3,"c":3,"k":"f","x":59,"y":9},
{"r":3,"c":4,"k":"m","x":0,"y":9.0},{"r":3,"c":4,"k":"m","x":2,"y":9.1},{"r":3,"c":4,"k":"m","x":4,"y":9.2},{"r":3,"c":4,"k":"m","x":6,"y":9.35},{"r":3,"c":4,"k":"m","x":8,"y":9.5},{"r":3,"c":4,"k":"m","x":10,"y":9.7},{"r":3,"c":4,"k":"m","x":12,"y":9.95},{"r":3,"c":4,"k":"m","x":13,"y":10.25},{"r":3,"c":4,"k":"m","x":14,"y":10.15},{"r":3,"c":4,"k":"m","x":16,"y":10.0},{"r":3,"c":4,"k":"m","x":18,"y":10.2},{"r":3,"c":4,"k":"m","x":20,"y":10.35},{"r":3,"c":4,"k":"m","x":22,"y":10.55},{"r":3,"c":4,"k":"m","x":24,"y":10.8},{"r":3,"c":4,"k":"m","x":25,"y":10.95},{"r":3,"c":4,"k":"m","x":26,"y":11.2},{"r":3,"c":4,"k":"m","x":27,"y":11.45},{"r":3,"c":4,"k":"m","x":28,"y":11.0},{"r":3,"c":4,"k":"m","x":30,"y":10.8},{"r":3,"c":4,"k":"m","x":32,"y":10.65},{"r":3,"c":4,"k":"m","x":34,"y":10.55},{"r":3,"c":4,"k":"m","x":36,"y":10.45},{"r":3,"c":4,"k":"m","x":38,"y":10.35},{"r":3,"c":4,"k":"m","x":40,"y":10.15},{"r":3,"c":4,"k":"m","x":42,"y":10.05},{"r":3,"c":4,"k":"m","x":44,"y":10.0},{"r":3,"c":4,"k":"m","x":46,"y":9.95},{"r":3,"c":4,"k":"m","x":48,"y":9.8},{"r":3,"c":4,"k":"m","x":50,"y":9.6},{"r":3,"c":4,"k":"m","x":52,"y":9.35},{"r":3,"c":4,"k":"m","x":54,"y":9.1},{"r":3,"c":4,"k":"m","x":56,"y":8.85},
{"r":3,"c":4,"k":"f","x":0,"y":9.05},{"r":3,"c":4,"k":"f","x":27,"y":11},{"r":3,"c":4,"k":"f","x":56,"y":9},
{"r":4,"c":0,"k":"m","x":0,"y":10.9},{"r":4,"c":0,"k":"m","x":1,"y":11.05},{"r":4,"c":0,"k":"m","x":2,"y":11.15},{"r":4,"c":0,"k":"m","x":4,"y":11.3},{"r":4,"c":0,"k":"m","x":6,"y":11.45},{"r":4,"c":0,"k":"m","x":8,"y":11.6},{"r":4,"c":0,"k":"m","x":10,"y":11.75},{"r":4,"c":0,"k":"m","x":12,"y":11.95},{"r":4,"c":0,"k":"m","x":14,"y":12.15},{"r":4,"c":0,"k":"m","x":16,"y":12.45},{"r":4,"c":0,"k":"m","x":18,"y":12.6},{"r":4,"c":0,"k":"m","x":20,"y":12.65},{"r":4,"c":0,"k":"m","x":21,"y":12.8},{"r":4,"c":0,"k":"m","x":22,"y":13.05},{"r":4,"c":0,"k":"m","x":23,"y":13.0},{"r":4,"c":0,"k":"m","x":24,"y":12.95},{"r":4,"c":0,"k":"m","x":26,"y":12.75},{"r":4,"c":0,"k":"m","x":28,"y":12.55},{"r":4,"c":0,"k":"m","x":30,"y":12.45},{"r":4,"c":0,"k":"m","x":31,"y":12.6},{"r":4,"c":0,"k":"m","x":32,"y":12.55},{"r":4,"c":0,"k":"m","x":34,"y":12.35},{"r":4,"c":0,"k":"m","x":35,"y":12.4},{"r":4,"c":0,"k":"m","x":36,"y":12.0},{"r":4,"c":0,"k":"m","x":38,"y":11.75},{"r":4,"c":0,"k":"m","x":40,"y":11.55},{"r":4,"c":0,"k":"m","x":42,"y":11.4},{"r":4,"c":0,"k":"m","x":44,"y":11.2},{"r":4,"c":0,"k":"m","x":46,"y":11.0},
{"r":4,"c":0,"k":"f","x":0,"y":11},{"r":4,"c":0,"k":"f","x":22,"y":13},{"r":4,"c":0,"k":"f","x":46,"y":11},
{"r":4,"c":1,"k":"m","x":0,"y":10.9},{"r":4,"c":1,"k":"m","x":2,"y":11.0},{"r":4,"c":1,"k":"m","x":4,"y":11.2},{"r":4,"c":1,"k":"m","x":5,"y":11.1},{"r":4,"c":1,"k":"m","x":6,"y":11.3},{"r":4,"c":1,"k":"m","x":8,"y":11.6},{"r":4,"c":1,"k":"m","x":10,"y":11.55},{"r":4,"c":1,"k":"m","x":12,"y":11.85},{"r":4,"c":1,"k":"m","x":14,"y":12.1},{"r":4,"c":1,"k":"m","x":16,"y":12.3},{"r":4,"c":1,"k":"m","x":18,"y":12.4},{"r":4,"c":1,"k":"m","x":20,"y":12.65},{"r":4,"c":1,"k":"m","x":22,"y":12.8},{"r":4,"c":1,"k":"m","x":24,"y":12.95},{"r":4,"c":1,"k":"m","x":26,"y":13.0},{"r":4,"c":1,"k":"m","x":28,"y":12.95},{"r":4,"c":1,"k":"m","x":30,"y":12.8},{"r":4,"c":1,"k":"m","x":32,"y":12.65},{"r":4,"c":1,"k":"m","x":34,"y":12.45},{"r":4,"c":1,"k":"m","x":36,"y":12.2},{"r":4,"c":1,"k":"m","x":38,"y":12.05},{"r":4,"c":1,"k":"m","x":40,"y":12.0},{"r":4,"c":1,"k":"m","x":42,"y":12.1},{"r":4,"c":1,"k":"m","x":44,"y":11.8},{"r":4,"c":1,"k":"m","x":46,"y":11.6},{"r":4,"c":1,"k":"m","x":48,"y":11.45},{"r":4,"c":1,"k":"m","x":50,"y":11.2},{"r":4,"c":1,"k":"m","x":52,"y":10.85},{"r":4,"c":1,"k":"m","x":54,"y":10.4},
{"r":4,"c":1,"k":"f","x":0,"y":11},{"r":4,"c":1,"k":"f","x":26,"y":13},{"r":4,"c":1,"k":"f","x":54,"y":11},
{"r":4,"c":2,"k":"m","x":0,"y":11.2},{"r":4,"c":2,"k":"m","x":2,"y":11.25},{"r":4,"c":2,"k":"m","x":4,"y":11.3},{"r":4,"c":2,"k":"m","x":6,"y":11.35},{"r":4,"c":2,"k":"m","x":8,"y":11.55},{"r":4,"c":2,"k":"m","x":10,"y":11.55},{"r":4,"c":2,"k":"m","x":12,"y":11.8},{"r":4,"c":2,"k":"m","x":14,"y":12.05},{"r":4,"c":2,"k":"m","x":15,"y":12.2},{"r":4,"c":2,"k":"m","x":16,"y":12.1},{"r":4,"c":2,"k":"m","x":18,"y":12.3},{"r":4,"c":2,"k":"m","x":20,"y":12.3},{"r":4,"c":2,"k":"m","x":22,"y":12.5},{"r":4,"c":2,"k":"m","x":24,"y":12.6},{"r":4,"c":2,"k":"m","x":26,"y":12.8},{"r":4,"c":2,"k":"m","x":28,"y":12.9},{"r":4,"c":2,"k":"m","x":30,"y":13.2},{"r":4,"c":2,"k":"m","x":31,"y":12.95},{"r":4,"c":2,"k":"m","x":33,"y":12.75},{"r":4,"c":2,"k":"m","x":35,"y":12.65},{"r":4,"c":2,"k":"m","x":37,"y":12.45},{"r":4,"c":2,"k":"m","x":39,"y":12.25},{"r":4,"c":2,"k":"m","x":41,"y":12.2},{"r":4,"c":2,"k":"m","x":43,"y":12.3},{"r":4,"c":2,"k":"m","x":45,"y":12.1},{"r":4,"c":2,"k":"m","x":47,"y":11.85},{"r":4,"c":2,"k":"m","x":49,"y":11.6},{"r":4,"c":2,"k":"m","x":51,"y":11.45},{"r":4,"c":2,"k":"m","x":53,"y":11.35},{"r":4,"c":2,"k":"m","x":56,"y":11.25},{"r":4,"c":2,"k":"m","x":58,"y":11.5},{"r":4,"c":2,"k":"m","x":60,"y":11.5},
{"r":4,"c":2,"k":"f","x":0,"y":11},{"r":4,"c":2,"k":"f","x":30,"y":13},{"r":4,"c":2,"k":"f","x":60,"y":11.1},
{"r":4,"c":3,"k":"m","x":0,"y":10.85},{"r":4,"c":3,"k":"m","x":2,"y":11.05},{"r":4,"c":3,"k":"m","x":4,"y":11.1},{"r":4,"c":3,"k":"m","x":6,"y":11.3},{"r":4,"c":3,"k":"m","x":8,"y":11.5},{"r":4,"c":3,"k":"m","x":10,"y":11.6},{"r":4,"c":3,"k":"m","x":12,"y":11.7},{"r":4,"c":3,"k":"m","x":14,"y":11.95},{"r":4,"c":3,"k":"m","x":16,"y":12.2},{"r":4,"c":3,"k":"m","x":18,"y":12.1},{"r":4,"c":3,"k":"m","x":20,"y":12.3},{"r":4,"c":3,"k":"m","x":22,"y":12.55},{"r":4,"c":3,"k":"m","x":24,"y":12.7},{"r":4,"c":3,"k":"m","x":26,"y":12.9},{"r":4,"c":3,"k":"m","x":27,"y":13.1},{"r":4,"c":3,"k":"m","x":28,"y":13.0},{"r":4,"c":3,"k":"m","x":29,"y":12.85},{"r":4,"c":3,"k":"m","x":30,"y":12.95},{"r":4,"c":3,"k":"m","x":32,"y":13.05},{"r":4,"c":3,"k":"m","x":34,"y":12.85},{"r":4,"c":3,"k":"m","x":36,"y":12.65},{"r":4,"c":3,"k":"m","x":38,"y":12.5},{"r":4,"c":3,"k":"m","x":40,"y":12.35},{"r":4,"c":3,"k":"m","x":42,"y":12.3},{"r":4,"c":3,"k":"m","x":43,"y":12.0},{"r":4,"c":3,"k":"m","x":44,"y":11.8},{"r":4,"c":3,"k":"m","x":46,"y":11.6},{"r":4,"c":3,"k":"m","x":48,"y":11.5},{"r":4,"c":3,"k":"m","x":50,"y":11.2},{"r":4,"c":3,"k":"m","x":52,"y":10.95},{"r":4,"c":3,"k":"m","x":54,"y":10.75},{"r":4,"c":3,"k":"m","x":56,"y":10.7},{"r":4,"c":3,"k":"m","x":58,"y":10.9},
{"r":4,"c":3,"k":"f","x":0,"y":11},{"r":4,"c":3,"k":"f","x":28,"y":13},{"r":4,"c":3,"k":"f","x":58,"y":11},
{"r":4,"c":4,"k":"m","x":0,"y":11.25},{"r":4,"c":4,"k":"m","x":1,"y":11.1},{"r":4,"c":4,"k":"m","x":2,"y":11.05},{"r":4,"c":4,"k":"m","x":4,"y":11.25},{"r":4,"c":4,"k":"m","x":5,"y":11.65},{"r":4,"c":4,"k":"m","x":6,"y":11.8},{"r":4,"c":4,"k":"m","x":8,"y":12.05},{"r":4,"c":4,"k":"m","x":10,"y":12.1},{"r":4,"c":4,"k":"m","x":11,"y":12.25},{"r":4,"c":4,"k":"m","x":12,"y":12.55},{"r":4,"c":4,"k":"m","x":13,"y":12.7},{"r":4,"c":4,"k":"m","x":14,"y":12.6},{"r":4,"c":4,"k":"m","x":15,"y":12.8},{"r":4,"c":4,"k":"m","x":16,"y":12.95},{"r":4,"c":4,"k":"m","x":17,"y":12.9},{"r":4,"c":4,"k":"m","x":18,"y":12.75},{"r":4,"c":4,"k":"m","x":19,"y":12.65},{"r":4,"c":4,"k":"m","x":20,"y":12.6},{"r":4,"c":4,"k":"m","x":22,"y":12.5},{"r":4,"c":4,"k":"m","x":24,"y":12.35},{"r":4,"c":4,"k":"m","x":25,"y":12.4},{"r":4,"c":4,"k":"m","x":26,"y":12.2},{"r":4,"c":4,"k":"m","x":27,"y":12.15},{"r":4,"c":4,"k":"m","x":28,"y":12.35},{"r":4,"c":4,"k":"m","x":30,"y":12.1},{"r":4,"c":4,"k":"m","x":32,"y":11.8},{"r":4,"c":4,"k":"m","x":34,"y":11.75},{"r":4,"c":4,"k":"m","x":35,"y":11.8},{"r":4,"c":4,"k":"m","x":36,"y":11.6},{"r":4,"c":4,"k":"m","x":38,"y":11.45},{"r":4,"c":4,"k":"m","x":40,"y":11.05},{"r":4,"c":4,"k":"m","x":41,"y":10.7},
{"r":4,"c":4,"k":"f","x":0,"y":11},{"r":4,"c":4,"k":"f","x":16,"y":13},{"r":4,"c":4,"k":"f","x":40,"y":11.1},
{"r":5,"c":0,"k":"m","x":0,"y":12.95},{"r":5,"c":0,"k":"m","x":2,"y":12.85},{"r":5,"c":0,"k":"m","x":4,"y":12.55},{"r":5,"c":0,"k":"m","x":6,"y":12.3},{"r":5,"c":0,"k":"m","x":8,"y":12.05},{"r":5,"c":0,"k":"m","x":10,"y":11.9},{"r":5,"c":0,"k":"m","x":12,"y":11.75},{"r":5,"c":0,"k":"m","x":14,"y":11.4},{"r":5,"c":0,"k":"m","x":16,"y":10.9},{"r":5,"c":0,"k":"m","x":18,"y":10.35},{"r":5,"c":0,"k":"m","x":20,"y":10.05},{"r":5,"c":0,"k":"m","x":22,"y":9.95},{"r":5,"c":0,"k":"m","x":24,"y":9.75},{"r":5,"c":0,"k":"m","x":26,"y":9.6},{"r":5,"c":0,"k":"m","x":28,"y":9.45},{"r":5,"c":0,"k":"m","x":30,"y":9.4},{"r":5,"c":0,"k":"m","x":32,"y":9.45},{"r":5,"c":0,"k":"m","x":34,"y":9.45},{"r":5,"c":0,"k":"m","x":36,"y":9.5},{"r":5,"c":0,"k":"m","x":38,"y":9.7},{"r":5,"c":0,"k":"m","x":40,"y":10.0},{"r":5,"c":0,"k":"m","x":42,"y":10.3},{"r":5,"c":0,"k":"m","x":44,"y":10.4},{"r":5,"c":0,"k":"m","x":46,"y":10.85},{"r":5,"c":0,"k":"m","x":47,"y":11.6},{"r":5,"c":0,"k":"m","x":48,"y":12.1},{"r":5,"c":0,"k":"m","x":49,"y":11.8},{"r":5,"c":0,"k":"m","x":50,"y":11.45},{"r":5,"c":0,"k":"m","x":52,"y":11.75},{"r":5,"c":0,"k":"m","x":54,"y":12.15},{"r":5,"c":0,"k":"m","x":56,"y":12.35},{"r":5,"c":0,"k":"m","x":58,"y":12.6},{"r":5,"c":0,"k":"m","x":60,"y":12.9},{"r":5,"c":0,"k":"m","x":61,"y":13.0},
{"r":5,"c":0,"k":"f","x":0,"y":13},{"r":5,"c":0,"k":"f","x":30,"y":9},{"r":5,"c":0,"k":"f","x":61,"y":13},
{"r":5,"c":1,"k":"m","x":0,"y":12.95},{"r":5,"c":1,"k":"m","x":2,"y":12.8},{"r":5,"c":1,"k":"m","x":4,"y":12.5},{"r":5,"c":1,"k":"m","x":6,"y":12.2},{"r":5,"c":1,"k":"m","x":8,"y":11.95},{"r":5,"c":1,"k":"m","x":10,"y":11.6},{"r":5,"c":1,"k":"m","x":12,"y":11.5},{"r":5,"c":1,"k":"m","x":14,"y":11.4},{"r":5,"c":1,"k":"m","x":16,"y":11.1},{"r":5,"c":1,"k":"m","x":18,"y":10.8},{"r":5,"c":1,"k":"m","x":20,"y":10.6},{"r":5,"c":1,"k":"m","x":22,"y":10.4},{"r":5,"c":1,"k":"m","x":24,"y":10.25},{"r":5,"c":1,"k":"m","x":26,"y":10.15},{"r":5,"c":1,"k":"m","x":28,"y":10.0},{"r":5,"c":1,"k":"m","x":28.5,"y":9.4},{"r":5,"c":1,"k":"m","x":29,"y":9.05},{"r":5,"c":1,"k":"m","x":30,"y":9.2},{"r":5,"c":1,"k":"m","x":32,"y":9.6},{"r":5,"c":1,"k":"m","x":34,"y":10.0},{"r":5,"c":1,"k":"m","x":36,"y":10.25},{"r":5,"c":1,"k":"m","x":38,"y":10.35},{"r":5,"c":1,"k":"m","x":40,"y":10.4},{"r":5,"c":1,"k":"m","x":42,"y":10.75},{"r":5,"c":1,"k":"m","x":44,"y":11.3},{"r":5,"c":1,"k":"m","x":46,"y":11.65},{"r":5,"c":1,"k":"m","x":48,"y":11.95},{"r":5,"c":1,"k":"m","x":50,"y":12.2},{"r":5,"c":1,"k":"m","x":52,"y":12.4},{"r":5,"c":1,"k":"m","x":54,"y":12.55},{"r":5,"c":1,"k":"m","x":56,"y":12.7},{"r":5,"c":1,"k":"m","x":58,"y":12.95},
{"r":5,"c":1,"k":"f","x":0,"y":13},{"r":5,"c":1,"k":"f","x":29,"y":9},{"r":5,"c":1,"k":"f","x":59,"y":13},
{"r":5,"c":2,"k":"m","x":0,"y":12.9},{"r":5,"c":2,"k":"m","x":2,"y":12.8},{"r":5,"c":2,"k":"m","x":4,"y":12.6},{"r":5,"c":2,"k":"m","x":6,"y":12.35},{"r":5,"c":2,"k":"m","x":8,"y":12.1},{"r":5,"c":2,"k":"m","x":10,"y":11.85},{"r":5,"c":2,"k":"m","x":12,"y":11.6},{"r":5,"c":2,"k":"m","x":14,"y":11.35},{"r":5,"c":2,"k":"m","x":16,"y":10.85},{"r":5,"c":2,"k":"m","x":17,"y":10.75},{"r":5,"c":2,"k":"m","x":18,"y":10.8},{"r":5,"c":2,"k":"m","x":20,"y":10.45},{"r":5,"c":2,"k":"m","x":22,"y":10.2},{"r":5,"c":2,"k":"m","x":24,"y":10.0},{"r":5,"c":2,"k":"m","x":26,"y":9.8},{"r":5,"c":2,"k":"m","x":28,"y":9.55},{"r":5,"c":2,"k":"m","x":29,"y":9.35},{"r":5,"c":2,"k":"m","x":30,"y":9.05},{"r":5,"c":2,"k":"m","x":31,"y":9.3},{"r":5,"c":2,"k":"m","x":33,"y":9.75},{"r":5,"c":2,"k":"m","x":35,"y":10.05},{"r":5,"c":2,"k":"m","x":37,"y":10.25},{"r":5,"c":2,"k":"m","x":39,"y":10.4},{"r":5,"c":2,"k":"m","x":41,"y":10.7},{"r":5,"c":2,"k":"m","x":43,"y":11.1},{"r":5,"c":2,"k":"m","x":45,"y":11.35},{"r":5,"c":2,"k":"m","x":47,"y":11.55},{"r":5,"c":2,"k":"m","x":49,"y":11.75},{"r":5,"c":2,"k":"m","x":51,"y":11.95},{"r":5,"c":2,"k":"m","x":53,"y":12.1},{"r":5,"c":2,"k":"m","x":55,"y":12.3},{"r":5,"c":2,"k":"m","x":57,"y":12.55},{"r":5,"c":2,"k":"m","x":58,"y":12.8},{"r":5,"c":2,"k":"m","x":59,"y":13.2},
{"r":5,"c":2,"k":"f","x":0,"y":13},{"r":5,"c":2,"k":"f","x":30,"y":9},{"r":5,"c":2,"k":"f","x":59,"y":13},
{"r":5,"c":3,"k":"m","x":0,"y":12.9},{"r":5,"c":3,"k":"m","x":2,"y":12.75},{"r":5,"c":3,"k":"m","x":4,"y":12.45},{"r":5,"c":3,"k":"m","x":6,"y":12.25},{"r":5,"c":3,"k":"m","x":8,"y":12.0},{"r":5,"c":3,"k":"m","x":10,"y":11.85},{"r":5,"c":3,"k":"m","x":12,"y":11.7},{"r":5,"c":3,"k":"m","x":14,"y":11.2},{"r":5,"c":3,"k":"m","x":16,"y":10.7},{"r":5,"c":3,"k":"m","x":18,"y":10.3},{"r":5,"c":3,"k":"m","x":20,"y":10.05},{"r":5,"c":3,"k":"m","x":22,"y":9.85},{"r":5,"c":3,"k":"m","x":24,"y":9.7},{"r":5,"c":3,"k":"m","x":26,"y":9.55},{"r":5,"c":3,"k":"m","x":28,"y":9.3},{"r":5,"c":3,"k":"m","x":30,"y":9.2},{"r":5,"c":3,"k":"m","x":32,"y":9.15},{"r":5,"c":3,"k":"m","x":34,"y":9.4},{"r":5,"c":3,"k":"m","x":36,"y":9.6},{"r":5,"c":3,"k":"m","x":38,"y":9.7},{"r":5,"c":3,"k":"m","x":40,"y":9.95},{"r":5,"c":3,"k":"m","x":42,"y":10.2},{"r":5,"c":3,"k":"m","x":44,"y":10.5},{"r":5,"c":3,"k":"m","x":46,"y":11.0},{"r":5,"c":3,"k":"m","x":48,"y":11.3},{"r":5,"c":3,"k":"m","x":50,"y":11.5},{"r":5,"c":3,"k":"m","x":52,"y":11.7},{"r":5,"c":3,"k":"m","x":54,"y":11.9},{"r":5,"c":3,"k":"m","x":56,"y":12.15},{"r":5,"c":3,"k":"m","x":58,"y":12.6},{"r":5,"c":3,"k":"m","x":59,"y":12.95},
{"r":5,"c":3,"k":"f","x":0,"y":13},{"r":5,"c":3,"k":"f","x":31,"y":9},{"r":5,"c":3,"k":"f","x":59,"y":13},
{"r":5,"c":4,"k":"m","x":0,"y":12.75},{"r":5,"c":4,"k":"m","x":2,"y":12.65},{"r":5,"c":4,"k":"m","x":4,"y":12.5},{"r":5,"c":4,"k":"m","x":6,"y":12.3},{"r":5,"c":4,"k":"m","x":8,"y":12.05},{"r":5,"c":4,"k":"m","x":10,"y":11.6},{"r":5,"c":4,"k":"m","x":12,"y":11.35},{"r":5,"c":4,"k":"m","x":14,"y":11.1},{"r":5,"c":4,"k":"m","x":16,"y":10.8},{"r":5,"c":4,"k":"m","x":18,"y":10.55},{"r":5,"c":4,"k":"m","x":20,"y":10.05},{"r":5,"c":4,"k":"m","x":22,"y":9.8},{"r":5,"c":4,"k":"m","x":24,"y":9.6},{"r":5,"c":4,"k":"m","x":26,"y":9.35},{"r":5,"c":4,"k":"m","x":28,"y":9.2},{"r":5,"c":4,"k":"m","x":30,"y":9.2},{"r":5,"c":4,"k":"m","x":32,"y":9.35},{"r":5,"c":4,"k":"m","x":34,"y":9.55},{"r":5,"c":4,"k":"m","x":36,"y":9.8},{"r":5,"c":4,"k":"m","x":38,"y":10.05},{"r":5,"c":4,"k":"m","x":40,"y":10.4},{"r":5,"c":4,"k":"m","x":42,"y":10.75},{"r":5,"c":4,"k":"m","x":44,"y":10.95},{"r":5,"c":4,"k":"m","x":46,"y":11.1},{"r":5,"c":4,"k":"m","x":48,"y":11.5},{"r":5,"c":4,"k":"m","x":50,"y":11.9},{"r":5,"c":4,"k":"m","x":52,"y":12.25},{"r":5,"c":4,"k":"m","x":54,"y":12.55},{"r":5,"c":4,"k":"m","x":56,"y":12.8},{"r":5,"c":4,"k":"m","x":58,"y":12.95},
{"r":5,"c":4,"k":"f","x":0,"y":13},{"r":5,"c":4,"k":"f","x":28,"y":9},{"r":5,"c":4,"k":"f","x":58,"y":13},
{"r":6,"c":0,"k":"m","x":0,"y":9.05},{"r":6,"c":0,"k":"m","x":2,"y":9.2},{"r":6,"c":0,"k":"m","x":4,"y":9.3},{"r":6,"c":0,"k":"m","x":6,"y":9.55},{"r":6,"c":0,"k":"m","x":8,"y":9.75},{"r":6,"c":0,"k":"m","x":10,"y":10.0},{"r":6,"c":0,"k":"m","x":11,"y":10.25},{"r":6,"c":0,"k":"m","x":12,"y":10.2},{"r":6,"c":0,"k":"m","x":13,"y":10.15},{"r":6,"c":0,"k":"m","x":14,"y":10.3},{"r":6,"c":0,"k":"m","x":16,"y":10.5},{"r":6,"c":0,"k":"m","x":18,"y":10.75},{"r":6,"c":0,"k":"m","x":19,"y":11.0},{"r":6,"c":0,"k":"m","x":20,"y":11.35},{"r":6,"c":0,"k":"m","x":21,"y":11.4},{"r":6,"c":0,"k":"m","x":22,"y":10.8},{"r":6,"c":0,"k":"m","x":24,"y":10.65},{"r":6,"c":0,"k":"m","x":26,"y":10.5},{"r":6,"c":0,"k":"m","x":28,"y":10.55},{"r":6,"c":0,"k":"m","x":30,"y":10.35},{"r":6,"c":0,"k":"m","x":32,"y":10.05},{"r":6,"c":0,"k":"m","x":34,"y":9.95},{"r":6,"c":0,"k":"m","x":36,"y":9.75},{"r":6,"c":0,"k":"m","x":38,"y":9.5},{"r":6,"c":0,"k":"m","x":40,"y":9.2},{"r":6,"c":0,"k":"m","x":42,"y":9.1},
{"r":6,"c":0,"k":"f","x":0,"y":9},{"r":6,"c":0,"k":"f","x":21,"y":11},{"r":6,"c":0,"k":"f","x":42,"y":9},
{"r":6,"c":1,"k":"m","x":0,"y":9.9},{"r":6,"c":1,"k":"m","x":2,"y":9.9},{"r":6,"c":1,"k":"m","x":4,"y":9.85},{"r":6,"c":1,"k":"m","x":6,"y":9.9},{"r":6,"c":1,"k":"m","x":8,"y":9.95},{"r":6,"c":1,"k":"m","x":10,"y":10.0},{"r":6,"c":1,"k":"m","x":12,"y":10.05},{"r":6,"c":1,"k":"m","x":14,"y":10.25},{"r":6,"c":1,"k":"m","x":16,"y":10.4},{"r":6,"c":1,"k":"m","x":18,"y":10.65},{"r":6,"c":1,"k":"m","x":20,"y":11.0},{"r":6,"c":1,"k":"m","x":21,"y":11.15},{"r":6,"c":1,"k":"m","x":22,"y":11.05},{"r":6,"c":1,"k":"m","x":24,"y":10.8},{"r":6,"c":1,"k":"m","x":26,"y":10.6},{"r":6,"c":1,"k":"m","x":28,"y":10.4},{"r":6,"c":1,"k":"m","x":30,"y":10.2},{"r":6,"c":1,"k":"m","x":32,"y":10.05},{"r":6,"c":1,"k":"m","x":34,"y":9.95},{"r":6,"c":1,"k":"m","x":36,"y":9.85},{"r":6,"c":1,"k":"m","x":38,"y":9.7},{"r":6,"c":1,"k":"m","x":40,"y":9.5},{"r":6,"c":1,"k":"m","x":42,"y":9.35},{"r":6,"c":1,"k":"m","x":44,"y":9.2},
{"r":6,"c":1,"k":"f","x":0,"y":9},{"r":6,"c":1,"k":"f","x":21,"y":11.1},{"r":6,"c":1,"k":"f","x":44,"y":9},
{"r":6,"c":2,"k":"m","x":0,"y":9.45},{"r":6,"c":2,"k":"m","x":4,"y":9.6},{"r":6,"c":2,"k":"m","x":8,"y":9.85},{"r":6,"c":2,"k":"m","x":10,"y":10.0},{"r":6,"c":2,"k":"m","x":12,"y":10.15},{"r":6,"c":2,"k":"m","x":14,"y":10.35},{"r":6,"c":2,"k":"m","x":16,"y":10.5},{"r":6,"c":2,"k":"m","x":18,"y":10.7},{"r":6,"c":2,"k":"m","x":20,"y":10.95},{"r":6,"c":2,"k":"m","x":21,"y":11.2},{"r":6,"c":2,"k":"m","x":22,"y":11.5},{"r":6,"c":2,"k":"m","x":24,"y":11.05},{"r":6,"c":2,"k":"m","x":26,"y":10.85},{"r":6,"c":2,"k":"m","x":28,"y":10.75},{"r":6,"c":2,"k":"m","x":30,"y":10.7},{"r":6,"c":2,"k":"m","x":32,"y":10.55},{"r":6,"c":2,"k":"m","x":34,"y":10.35},{"r":6,"c":2,"k":"m","x":36,"y":10.15},{"r":6,"c":2,"k":"m","x":38,"y":10.25},{"r":6,"c":2,"k":"m","x":40,"y":10.2},{"r":6,"c":2,"k":"m","x":42,"y":9.7},{"r":6,"c":2,"k":"m","x":44,"y":9.0},
{"r":6,"c":2,"k":"f","x":0,"y":9},{"r":6,"c":2,"k":"f","x":22,"y":11.15},{"r":6,"c":2,"k":"f","x":44,"y":9},
{"r":6,"c":3,"k":"m","x":0,"y":8.95},{"r":6,"c":3,"k":"m","x":2,"y":9.05},{"r":6,"c":3,"k":"m","x":4,"y":9.15},{"r":6,"c":3,"k":"m","x":6,"y":9.3},{"r":6,"c":3,"k":"m","x":8,"y":9.5},{"r":6,"c":3,"k":"m","x":10,"y":9.7},{"r":6,"c":3,"k":"m","x":12,"y":9.85},{"r":6,"c":3,"k":"m","x":14,"y":10.0},{"r":6,"c":3,"k":"m","x":16,"y":10.15},{"r":6,"c":3,"k":"m","x":18,"y":10.2},{"r":6,"c":3,"k":"m","x":20,"y":10.35},{"r":6,"c":3,"k":"m","x":22,"y":10.55},{"r":6,"c":3,"k":"m","x":22.5,"y":10.7},{"r":6,"c":3,"k":"m","x":23,"y":11.45},{"r":6,"c":3,"k":"m","x":25,"y":11.15},{"r":6,"c":3,"k":"m","x":27,"y":10.85},{"r":6,"c":3,"k":"m","x":29,"y":10.4},{"r":6,"c":3,"k":"m","x":31,"y":10.3},{"r":6,"c":3,"k":"m","x":33,"y":10.1},{"r":6,"c":3,"k":"m","x":35,"y":10.25},{"r":6,"c":3,"k":"m","x":37,"y":10.25},{"r":6,"c":3,"k":"m","x":39,"y":10.1},{"r":6,"c":3,"k":"m","x":41,"y":9.8},{"r":6,"c":3,"k":"m","x":42,"y":9.6},
{"r":6,"c":3,"k":"f","x":0,"y":9},{"r":6,"c":3,"k":"f","x":23,"y":11},{"r":6,"c":3,"k":"f","x":42,"y":9},
{"r":6,"c":4,"k":"m","x":0,"y":9.8},{"r":6,"c":4,"k":"m","x":1,"y":9.55},{"r":6,"c":4,"k":"m","x":2,"y":10.0},{"r":6,"c":4,"k":"m","x":4,"y":10.0},{"r":6,"c":4,"k":"m","x":6,"y":10.0},{"r":6,"c":4,"k":"m","x":8,"y":10.0},{"r":6,"c":4,"k":"m","x":11,"y":10.0},{"r":6,"c":4,"k":"m","x":11.5,"y":10.6},{"r":6,"c":4,"k":"m","x":12,"y":10.85},{"r":6,"c":4,"k":"m","x":13,"y":10.9},{"r":6,"c":4,"k":"m","x":14,"y":10.85},{"r":6,"c":4,"k":"m","x":16,"y":10.65},{"r":6,"c":4,"k":"m","x":18,"y":10.45},{"r":6,"c":4,"k":"m","x":20,"y":10.35},{"r":6,"c":4,"k":"m","x":22,"y":10.3},{"r":6,"c":4,"k":"m","x":24,"y":10.05},{"r":6,"c":4,"k":"m","x":26,"y":9.65},{"r":6,"c":4,"k":"m","x":28,"y":9.4},{"r":6,"c":4,"k":"m","x":30,"y":9.15},{"r":6,"c":4,"k":"m","x":31,"y":9.05},
{"r":6,"c":4,"k":"f","x":0,"y":9},{"r":6,"c":4,"k":"f","x":12,"y":11},{"r":6,"c":4,"k":"f","x":31,"y":9.05},
{"r":7,"c":0,"k":"m","x":0,"y":11.35},{"r":7,"c":0,"k":"m","x":1,"y":11.35},{"r":7,"c":0,"k":"m","x":2,"y":11.5},{"r":7,"c":0,"k":"m","x":3,"y":11.85},{"r":7,"c":0,"k":"m","x":4,"y":12.1},{"r":7,"c":0,"k":"m","x":5,"y":12.2},{"r":7,"c":0,"k":"m","x":7,"y":12.2},{"r":7,"c":0,"k":"m","x":9,"y":12.2},{"r":7,"c":0,"k":"m","x":11,"y":12.25},{"r":7,"c":0,"k":"m","x":12,"y":12.35},{"r":7,"c":0,"k":"m","x":13,"y":12.55},{"r":7,"c":0,"k":"m","x":14,"y":12.85},{"r":7,"c":0,"k":"m","x":15,"y":13.0},{"r":7,"c":0,"k":"m","x":16,"y":12.85},{"r":7,"c":0,"k":"m","x":18,"y":12.6},{"r":7,"c":0,"k":"m","x":20,"y":12.45},{"r":7,"c":0,"k":"m","x":22,"y":12.25},{"r":7,"c":0,"k":"m","x":24,"y":12.0},{"r":7,"c":0,"k":"m","x":26,"y":12.05},{"r":7,"c":0,"k":"m","x":27,"y":12.1},{"r":7,"c":0,"k":"m","x":28,"y":11.55},{"r":7,"c":0,"k":"m","x":29,"y":11.25},{"r":7,"c":0,"k":"m","x":30,"y":11.15},{"r":7,"c":0,"k":"m","x":31,"y":11.3},{"r":7,"c":0,"k":"m","x":32,"y":11.05},{"r":7,"c":0,"k":"m","x":33,"y":11.25},
{"r":7,"c":0,"k":"f","x":0,"y":11},{"r":7,"c":0,"k":"f","x":15,"y":13},{"r":7,"c":0,"k":"f","x":33,"y":11},
{"r":7,"c":1,"k":"m","x":0,"y":11.2},{"r":7,"c":1,"k":"m","x":1,"y":11.25},{"r":7,"c":1,"k":"m","x":2,"y":11.2},{"r":7,"c":1,"k":"m","x":4,"y":11.45},{"r":7,"c":1,"k":"m","x":5,"y":11.7},{"r":7,"c":1,"k":"m","x":6,"y":11.7},{"r":7,"c":1,"k":"m","x":8,"y":11.8},{"r":7,"c":1,"k":"m","x":10,"y":11.85},{"r":7,"c":1,"k":"m","x":11,"y":12.3},{"r":7,"c":1,"k":"m","x":12,"y":12.35},{"r":7,"c":1,"k":"m","x":14,"y":12.55},{"r":7,"c":1,"k":"m","x":16,"y":12.75},{"r":7,"c":1,"k":"m","x":18,"y":12.9},{"r":7,"c":1,"k":"m","x":19,"y":13.0},{"r":7,"c":1,"k":"m","x":20,"y":13.0},{"r":7,"c":1,"k":"m","x":22,"y":12.75},{"r":7,"c":1,"k":"m","x":24,"y":12.5},{"r":7,"c":1,"k":"m","x":26,"y":12.3},{"r":7,"c":1,"k":"m","x":28,"y":12.0},{"r":7,"c":1,"k":"m","x":29,"y":11.8},{"r":7,"c":1,"k":"m","x":31,"y":11.8},{"r":7,"c":1,"k":"m","x":32,"y":11.85},{"r":7,"c":1,"k":"m","x":33,"y":11.5},{"r":7,"c":1,"k":"m","x":35,"y":11.45},{"r":7,"c":1,"k":"m","x":37,"y":11.0},
{"r":7,"c":1,"k":"f","x":0,"y":11},{"r":7,"c":1,"k":"f","x":19,"y":13},{"r":7,"c":1,"k":"f","x":37,"y":11},
{"r":7,"c":2,"k":"m","x":0,"y":11.1},{"r":7,"c":2,"k":"m","x":2,"y":11.2},{"r":7,"c":2,"k":"m","x":4,"y":11.2},{"r":7,"c":2,"k":"m","x":6,"y":11.5},{"r":7,"c":2,"k":"m","x":8,"y":11.9},{"r":7,"c":2,"k":"m","x":9,"y":11.95},{"r":7,"c":2,"k":"m","x":10,"y":11.85},{"r":7,"c":2,"k":"m","x":12,"y":12.05},{"r":7,"c":2,"k":"m","x":14,"y":12.2},{"r":7,"c":2,"k":"m","x":16,"y":12.45},{"r":7,"c":2,"k":"m","x":18,"y":12.6},{"r":7,"c":2,"k":"m","x":20,"y":12.85},{"r":7,"c":2,"k":"m","x":22,"y":13.0},{"r":7,"c":2,"k":"m","x":24,"y":12.8},{"r":7,"c":2,"k":"m","x":26,"y":12.6},{"r":7,"c":2,"k":"m","x":28,"y":12.5},{"r":7,"c":2,"k":"m","x":30,"y":12.4},{"r":7,"c":2,"k":"m","x":32,"y":12.35},{"r":7,"c":2,"k":"m","x":33,"y":12.4},{"r":7,"c":2,"k":"m","x":35,"y":12.05},{"r":7,"c":2,"k":"m","x":37,"y":11.8},{"r":7,"c":2,"k":"m","x":39,"y":11.6},{"r":7,"c":2,"k":"m","x":41,"y":11.45},{"r":7,"c":2,"k":"m","x":43,"y":11.3},{"r":7,"c":2,"k":"m","x":44,"y":11.25},
{"r":7,"c":2,"k":"f","x":0,"y":11},{"r":7,"c":2,"k":"f","x":22,"y":13},{"r":7,"c":2,"k":"f","x":44,"y":11},
{"r":7,"c":3,"k":"m","x":0,"y":11.05},{"r":7,"c":3,"k":"m","x":2,"y":11.1},{"r":7,"c":3,"k":"m","x":4,"y":11.2},{"r":7,"c":3,"k":"m","x":6,"y":11.5},{"r":7,"c":3,"k":"m","x":8,"y":11.75},{"r":7,"c":3,"k":"m","x":10,"y":12.0},{"r":7,"c":3,"k":"m","x":11,"y":12.2},{"r":7,"c":3,"k":"m","x":12,"y":12.15},{"r":7,"c":3,"k":"m","x":13,"y":12.1},{"r":7,"c":3,"k":"m","x":14,"y":12.25},{"r":7,"c":3,"k":"m","x":16,"y":12.55},{"r":7,"c":3,"k":"m","x":18,"y":12.8},{"r":7,"c":3,"k":"m","x":20,"y":13.1},{"r":7,"c":3,"k":"m","x":21,"y":12.85},{"r":7,"c":3,"k":"m","x":22,"y":12.7},{"r":7,"c":3,"k":"m","x":24,"y":12.55},{"r":7,"c":3,"k":"m","x":26,"y":12.5},{"r":7,"c":3,"k":"m","x":28,"y":12.4},{"r":7,"c":3,"k":"m","x":30,"y":12.25},{"r":7,"c":3,"k":"m","x":32,"y":12.1},{"r":7,"c":3,"k":"m","x":34,"y":11.8},{"r":7,"c":3,"k":"m","x":36,"y":11.6},{"r":7,"c":3,"k":"m","x":38,"y":11.35},{"r":7,"c":3,"k":"m","x":40,"y":11.2},{"r":7,"c":3,"k":"m","x":42,"y":11.15},{"r":7,"c":3,"k":"m","x":44,"y":11.15},
{"r":7,"c":3,"k":"f","x":0,"y":11},{"r":7,"c":3,"k":"f","x":20,"y":13},{"r":7,"c":3,"k":"f","x":44,"y":11},
{"r":7,"c":4,"k":"m","x":0,"y":11.15},{"r":7,"c":4,"k":"m","x":1,"y":11.3},{"r":7,"c":4,"k":"m","x":2,"y":11.55},{"r":7,"c":4,"k":"m","x":4,"y":11.75},{"r":7,"c":4,"k":"m","x":5,"y":11.95},{"r":7,"c":4,"k":"m","x":6,"y":11.95},{"r":7,"c":4,"k":"m","x":7,"y":12.05},{"r":7,"c":4,"k":"m","x":9,"y":12.05},{"r":7,"c":4,"k":"m","x":10,"y":12.0},{"r":7,"c":4,"k":"m","x":11,"y":11.8},{"r":7,"c":4,"k":"m","x":12,"y":11.9},{"r":7,"c":4,"k":"m","x":13,"y":12.35},{"r":7,"c":4,"k":"m","x":14,"y":12.75},{"r":7,"c":4,"k":"m","x":15,"y":13.0},{"r":7,"c":4,"k":"m","x":16,"y":13.1},{"r":7,"c":4,"k":"m","x":17,"y":12.85},{"r":7,"c":4,"k":"m","x":19,"y":12.75},{"r":7,"c":4,"k":"m","x":21,"y":12.6},{"r":7,"c":4,"k":"m","x":23,"y":12.3},{"r":7,"c":4,"k":"m","x":25,"y":12.0},{"r":7,"c":4,"k":"m","x":27,"y":11.9},{"r":7,"c":4,"k":"m","x":28,"y":11.75},{"r":7,"c":4,"k":"m","x":30,"y":11.45},{"r":7,"c":4,"k":"m","x":31,"y":11.5},{"r":7,"c":4,"k":"m","x":32,"y":11.4},{"r":7,"c":4,"k":"m","x":33,"y":11.2},{"r":7,"c":4,"k":"m","x":35,"y":11.05},
{"r":7,"c":4,"k":"f","x":0,"y":11},{"r":7,"c":4,"k":"f","x":16,"y":13.1},{"r":7,"c":4,"k":"f","x":35,"y":11.05},
{"r":8,"c":0,"k":"m","x":0,"y":12.7},{"r":8,"c":0,"k":"m","x":2,"y":12.2},{"r":8,"c":0,"k":"m","x":4,"y":11.8},{"r":8,"c":0,"k":"m","x":6,"y":11.4},{"r":8,"c":0,"k":"m","x":7,"y":11.15},{"r":8,"c":0,"k":"m","x":9,"y":11.1},{"r":8,"c":0,"k":"m","x":11,"y":11.05},{"r":8,"c":0,"k":"m","x":12,"y":10.95},{"r":8,"c":0,"k":"m","x":13,"y":10.6},{"r":8,"c":0,"k":"m","x":14,"y":10.2},{"r":8,"c":0,"k":"m","x":15,"y":9.8},{"r":8,"c":0,"k":"m","x":16,"y":9.1},{"r":8,"c":0,"k":"m","x":17,"y":9.6},{"r":8,"c":0,"k":"m","x":18,"y":10.2},{"r":8,"c":0,"k":"m","x":19,"y":10.55},{"r":8,"c":0,"k":"m","x":20,"y":10.75},{"r":8,"c":0,"k":"m","x":21,"y":10.95},{"r":8,"c":0,"k":"m","x":22,"y":11.05},{"r":8,"c":0,"k":"m","x":24,"y":11.05},{"r":8,"c":0,"k":"m","x":26,"y":11.05},{"r":8,"c":0,"k":"m","x":27,"y":11.3},{"r":8,"c":0,"k":"m","x":28,"y":11.75},{"r":8,"c":0,"k":"m","x":29,"y":12.35},{"r":8,"c":0,"k":"m","x":30,"y":12.6},
{"r":8,"c":0,"k":"f","x":0,"y":13},{"r":8,"c":0,"k":"f","x":16,"y":9},{"r":8,"c":0,"k":"f","x":30,"y":13},
{"r":8,"c":1,"k":"m","x":0,"y":12.95},{"r":8,"c":1,"k":"m","x":2,"y":12.5},{"r":8,"c":1,"k":"m","x":4,"y":12.15},{"r":8,"c":1,"k":"m","x":6,"y":11.75},{"r":8,"c":1,"k":"m","x":8,"y":11.35},{"r":8,"c":1,"k":"m","x":10,"y":10.95},{"r":8,"c":1,"k":"m","x":12,"y":10.75},{"r":8,"c":1,"k":"m","x":14,"y":10.6},{"r":8,"c":1,"k":"m","x":16,"y":10.5},{"r":8,"c":1,"k":"m","x":18,"y":10.3},{"r":8,"c":1,"k":"m","x":19,"y":10.05},{"r":8,"c":1,"k":"m","x":20,"y":9.6},{"r":8,"c":1,"k":"m","x":21,"y":9.2},{"r":8,"c":1,"k":"m","x":22,"y":9.3},{"r":8,"c":1,"k":"m","x":24,"y":9.75},{"r":8,"c":1,"k":"m","x":26,"y":10.25},{"r":8,"c":1,"k":"m","x":28,"y":10.8},{"r":8,"c":1,"k":"m","x":30,"y":11.25},{"r":8,"c":1,"k":"m","x":32,"y":11.6},{"r":8,"c":1,"k":"m","x":34,"y":11.95},{"r":8,"c":1,"k":"m","x":35,"y":12.5},{"r":8,"c":1,"k":"m","x":36,"y":12.5},{"r":8,"c":1,"k":"m","x":37,"y":12.35},{"r":8,"c":1,"k":"m","x":39,"y":12.15},
{"r":8,"c":1,"k":"f","x":0,"y":13},{"r":8,"c":1,"k":"f","x":20,"y":9},{"r":8,"c":1,"k":"f","x":39,"y":13},
{"r":8,"c":2,"k":"m","x":0,"y":12.8},{"r":8,"c":2,"k":"m","x":2,"y":12.8},{"r":8,"c":2,"k":"m","x":4,"y":12.7},{"r":8,"c":2,"k":"m","x":6,"y":12.5},{"r":8,"c":2,"k":"m","x":8,"y":12.25},{"r":8,"c":2,"k":"m","x":10,"y":11.9},{"r":8,"c":2,"k":"m","x":11,"y":11.6},{"r":8,"c":2,"k":"m","x":12,"y":11.1},{"r":8,"c":2,"k":"m","x":14,"y":10.7},{"r":8,"c":2,"k":"m","x":16,"y":10.2},{"r":8,"c":2,"k":"m","x":18,"y":9.85},{"r":8,"c":2,"k":"m","x":20,"y":9.75},{"r":8,"c":2,"k":"m","x":21,"y":9.5},{"r":8,"c":2,"k":"m","x":22,"y":8.95},{"r":8,"c":2,"k":"m","x":23,"y":9.25},{"r":8,"c":2,"k":"m","x":25,"y":9.55},{"r":8,"c":2,"k":"m","x":27,"y":9.95},{"r":8,"c":2,"k":"m","x":29,"y":10.3},{"r":8,"c":2,"k":"m","x":31,"y":10.75},{"r":8,"c":2,"k":"m","x":33,"y":11.15},{"r":8,"c":2,"k":"m","x":35,"y":11.45},{"r":8,"c":2,"k":"m","x":37,"y":11.8},{"r":8,"c":2,"k":"m","x":39,"y":12.1},{"r":8,"c":2,"k":"m","x":41,"y":12.6},{"r":8,"c":2,"k":"m","x":43,"y":12.95},
{"r":8,"c":2,"k":"f","x":0,"y":13},{"r":8,"c":2,"k":"f","x":22,"y":9},{"r":8,"c":2,"k":"f","x":43,"y":13},
{"r":8,"c":3,"k":"m","x":0,"y":12.65},{"r":8,"c":3,"k":"m","x":2,"y":12.3},{"r":8,"c":3,"k":"m","x":4,"y":11.95},{"r":8,"c":3,"k":"m","x":6,"y":11.55},{"r":8,"c":3,"k":"m","x":8,"y":11.1},{"r":8,"c":3,"k":"m","x":10,"y":10.75},{"r":8,"c":3,"k":"m","x":12,"y":10.5},{"r":8,"c":3,"k":"m","x":14,"y":10.2},{"r":8,"c":3,"k":"m","x":16,"y":9.75},{"r":8,"c":3,"k":"m","x":18,"y":9.55},{"r":8,"c":3,"k":"m","x":20,"y":9.5},{"r":8,"c":3,"k":"m","x":21,"y":9.05},{"r":8,"c":3,"k":"m","x":22,"y":9.4},{"r":8,"c":3,"k":"m","x":24,"y":9.6},{"r":8,"c":3,"k":"m","x":26,"y":10.0},{"r":8,"c":3,"k":"m","x":28,"y":10.5},{"r":8,"c":3,"k":"m","x":30,"y":10.95},{"r":8,"c":3,"k":"m","x":32,"y":11.35},{"r":8,"c":3,"k":"m","x":34,"y":11.7},{"r":8,"c":3,"k":"m","x":36,"y":12.0},{"r":8,"c":3,"k":"m","x":38,"y":12.25},{"r":8,"c":3,"k":"m","x":40,"y":12.5},
{"r":8,"c":3,"k":"f","x":0,"y":13},{"r":8,"c":3,"k":"f","x":20,"y":9},{"r":8,"c":3,"k":"f","x":40,"y":13},
{"r":8,"c":4,"k":"m","x":0,"y":12.2},{"r":8,"c":4,"k":"m","x":2,"y":11.9},{"r":8,"c":4,"k":"m","x":4,"y":11.4},{"r":8,"c":4,"k":"m","x":6,"y":10.8},{"r":8,"c":4,"k":"m","x":8,"y":10.65},{"r":8,"c":4,"k":"m","x":10,"y":10.65},{"r":8,"c":4,"k":"m","x":12,"y":10.2},{"r":8,"c":4,"k":"m","x":14,"y":9.75},{"r":8,"c":4,"k":"m","x":16,"y":9.55},{"r":8,"c":4,"k":"m","x":18,"y":9.35},{"r":8,"c":4,"k":"m","x":20,"y":9.4},{"r":8,"c":4,"k":"m","x":22,"y":9.55},{"r":8,"c":4,"k":"m","x":24,"y":9.85},{"r":8,"c":4,"k":"m","x":26,"y":10.3},{"r":8,"c":4,"k":"m","x":28,"y":10.9},{"r":8,"c":4,"k":"m","x":30,"y":11.7},{"r":8,"c":4,"k":"m","x":32,"y":12.25},{"r":8,"c":4,"k":"m","x":34,"y":12.35},{"r":8,"c":4,"k":"m","x":36,"y":12.45},{"r":8,"c":4,"k":"m","x":37,"y":12.6},
{"r":8,"c":4,"k":"f","x":0,"y":13},{"r":8,"c":4,"k":"f","x":17,"y":9},{"r":8,"c":4,"k":"f","x":37,"y":13}
]},
"data":{"name":"d"},
"facet":{
"row":{"field":"r","type":"ordinal","header":{"title":null,"labelExpr":"'Specimen number: ' + datum.value","labelAngle":-90,"labelFontSize":5.2,"labelPadding":11,"labelFont":"DejaVu Sans","labelColor":"#222"}},
"column":{"field":"c","type":"ordinal","header":{"title":null,"labelExpr":"'Deposited track number: ' + datum.value","labelFontSize":6.1,"labelPadding":3,"labelFont":"DejaVu Sans","labelColor":"#111"}}
},
"spacing":{"row":14,"column":18},
"bounds":"flush",
"resolve":{"scale":{"x":"independent","y":"independent"}},
"spec":{
"width":89,"height":46,
"encoding":{
"x":{"field":"x","type":"quantitative","scale":{"zero":false,"nice":false,"padding":4.2},"axis":{"title":null,"tickCount":4,"labelAngle":0}},
"y":{"field":"y","type":"quantitative","scale":{"zero":false,"nice":false,"padding":2.2},"axis":{"title":null,"tickCount":3}}
},
"layer":[
{"transform":[{"filter":"datum.k == 'm'"}],"mark":{"type":"line","color":"#1f77b4","strokeWidth":1}},
{"transform":[{"filter":"datum.k == 'f'"}],"mark":{"type":"line","color":"#ff7f0e","strokeWidth":1.1,"strokeDash":[3.5,2]}}
]
},
"config":{
"font":"DejaVu Sans",
"view":{"stroke":"#555","strokeWidth":0.8},
"axis":{"grid":false,"domain":false,"labelFont":"DejaVu Sans","labelFontSize":5,"labelColor":"#333","tickColor":"#444","tickSize":2,"tickWidth":0.6,"labelPadding":1,"labelFlush":false}
}
}
